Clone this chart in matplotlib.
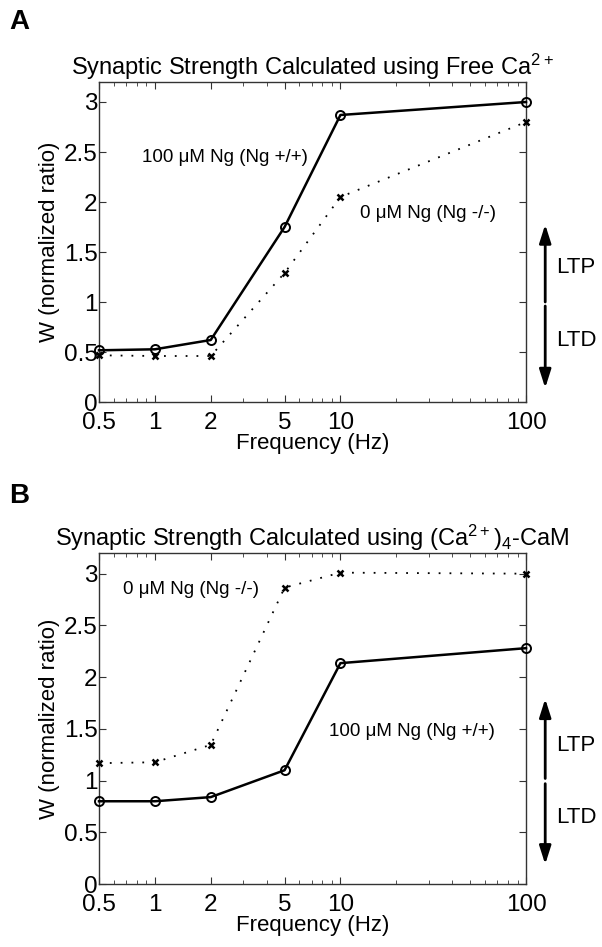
import numpy as np
import matplotlib
matplotlib.use("Agg")
import matplotlib.pyplot as plt
from matplotlib.ticker import FixedLocator, NullFormatter, LogLocator

plt.rcParams['font.family'] = ['Liberation Sans', 'DejaVu Sans']
plt.rcParams['mathtext.fontset'] = 'custom'
plt.rcParams['mathtext.rm'] = 'Liberation Sans'

# data
freq = [0.5, 1, 2, 5, 10, 100]
xtick_labels = ['0.5', '1', '2', '5', '10', '100']
yticks = [0, 0.5, 1, 1.5, 2, 2.5, 3]
ytick_labels = ['0', '0.5', '1', '1.5', '2', '2.5', '3']

# panel A: free Ca2+
wA_ng = [0.517, 0.527, 0.62, 1.75, 2.87, 3.0]     # 100 uM Ng (+/+)
wA_ko = [0.467, 0.46, 0.46, 1.29, 2.05, 2.80]     # 0 uM Ng (-/-)
# panel B: (Ca2+)4-CaM
wB_ng = [0.80, 0.80, 0.84, 1.10, 2.135, 2.28]
wB_ko = [1.168, 1.177, 1.345, 2.865, 3.01, 3.0]

titleA = 'Synaptic Strength Calculated using Free Ca$\\mathregular{^{2+}}$'
titleB = 'Synaptic Strength Calculated using (Ca$\\mathregular{^{2+}}$)$\\mathregular{_4}$-CaM'
lab_ng = '100 \u03bcM Ng (Ng +/+)'
lab_ko = '0 \u03bcM Ng (Ng -/-)'

fig = plt.figure(figsize=(6.02, 9.47), dpi=100)
axA = fig.add_axes([99/602, 1-402/947, 427/602, 320/947])
axB = fig.add_axes([99/602, 1-884/947, 427/602, 331/947])


def panel(ax, w_ng, w_ko, title, pos_ng, pos_ko, arr):
    ax.plot(freq, w_ng, '-', color='black', lw=1.8, marker='o', ms=6.5,
            mfc='none', mew=1.4, clip_on=False, zorder=3)
    ax.plot(freq, w_ko, color='black', lw=1.3, ls=(0, (1, 5)), marker='x',
            ms=4, mew=1.8, clip_on=False, zorder=3)
    ax.set_xscale('log')
    ax.set_xlim(0.5, 100)
    ax.set_ylim(0, 3.2)
    ax.xaxis.set_major_locator(FixedLocator(freq))
    ax.set_xticklabels(xtick_labels)
    ax.xaxis.set_minor_locator(LogLocator(base=10, subs=np.arange(2, 10)))
    ax.xaxis.set_minor_formatter(NullFormatter())
    ax.set_yticks(yticks)
    ax.set_yticklabels(ytick_labels)
    ax.tick_params(which='both', direction='in', top=True, right=True,
                   labelsize=17.5, color='#333333', pad=1)
    ax.tick_params(axis='x', which='major', pad=7.5)
    ax.tick_params(which='major', length=5)
    ax.tick_params(which='minor', length=3)
    for s in ax.spines.values():
        s.set_linewidth(1.0)
        s.set_color('#333333')
    ax.set_xlabel('Frequency (Hz)', fontsize=16, labelpad=-1)
    ax.set_ylabel('W (normalized ratio)', fontsize=16, labelpad=3)
    ax.set_title(title, fontsize=17, pad=5)
    ax.text(pos_ng[0], pos_ng[1], lab_ng, fontsize=13.5, va='center')
    ax.text(pos_ko[0], pos_ko[1], lab_ko, fontsize=13.5, va='center')

    # LTP / LTD arrows right of the axes
    tr = ax.get_yaxis_transform()
    up_tip, gap_hi, gap_lo, down_tip, y_ltp, y_ltd = arr
    ax.annotate('', xy=(1.045, up_tip), xytext=(1.045, gap_hi), xycoords=tr,
                textcoords=tr, annotation_clip=False,
                arrowprops=dict(arrowstyle='-|>,head_length=1.1,head_width=0.35',
                                color='black', lw=2, shrinkA=0, shrinkB=0))
    ax.annotate('', xy=(1.045, down_tip), xytext=(1.045, gap_lo), xycoords=tr,
                textcoords=tr, annotation_clip=False,
                arrowprops=dict(arrowstyle='-|>,head_length=1.1,head_width=0.35',
                                color='black', lw=2, shrinkA=0, shrinkB=0))
    ax.text(1.07, y_ltp, 'LTP', transform=tr, fontsize=16, va='center')
    ax.text(1.07, y_ltd, 'LTD', transform=tr, fontsize=16, va='center')


panel(axA, wA_ng, wA_ko, titleA, (0.85, 2.45), (12.7, 1.89),
      (1.775, 1.0, 0.96, 0.14, 1.35, 0.62))
panel(axB, wB_ng, wB_ko, titleB, (8.7, 1.47), (0.67, 2.85),
      (1.79, 1.02, 0.97, 0.19, 1.34, 0.645))

fig.text(0.015, 0.99, 'A', fontsize=20, fontweight='bold', va='top')
fig.text(0.015, 0.49, 'B', fontsize=20, fontweight='bold', va='top')

fig.savefig('out.png', dpi=100)
